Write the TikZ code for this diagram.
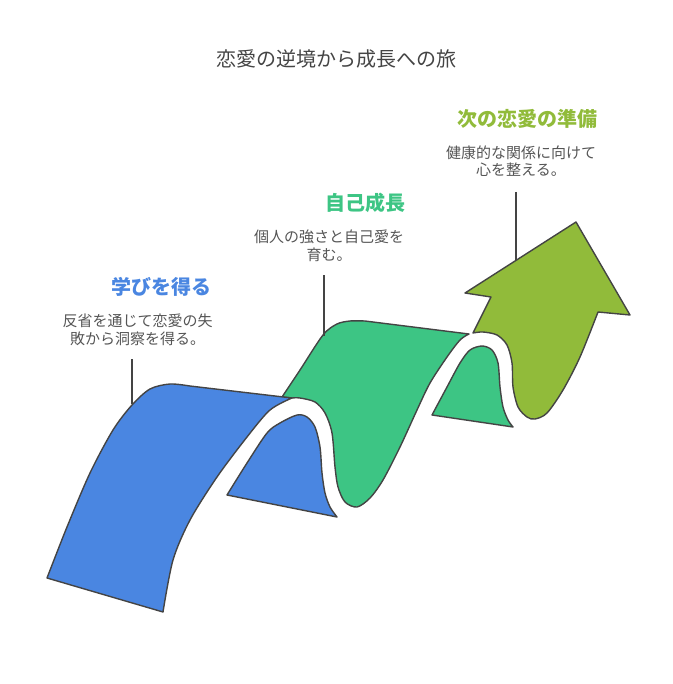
\documentclass[tikz,border=0pt]{standalone}
\usepackage{fontspec}
\setmainfont{Noto Sans CJK JP}
\usetikzlibrary{positioning}

\definecolor{edgegray}{HTML}{444444}
\definecolor{titlegray}{HTML}{444444}
\definecolor{descgray}{HTML}{555555}
\definecolor{learnblue}{HTML}{4A86E1}
\definecolor{growgreen}{HTML}{3DC584}
\definecolor{nextolive}{HTML}{91BB3A}

\tikzstyle{every path}+=[line join=round]
\tikzstyle{face}=[draw=edgegray, line width=1.4pt]
\tikzstyle{leader}=[draw=edgegray, line width=1.4pt]
\tikzstyle{head}=[font=\bfseries\fontsize{20}{24}\selectfont, inner sep=0pt, text height=17.6pt, text depth=2.4pt]
\tikzstyle{desc}=[font=\fontsize{15}{17.5}\selectfont, align=center, inner sep=0pt, text height=30.7pt, text depth=1.8pt, text=descgray]

\begin{document}
\begin{tikzpicture}[x=1pt,y=-1pt]
\useasboundingbox (0,0) rectangle (672,684);

\node[font=\fontsize{20}{24}\selectfont, text=titlegray, inner sep=0pt] (title) at (336,59) {恋愛の逆境から成長への旅};

% arrow and the green piece
\draw[face, fill=nextolive] (473,333) -- (491,297) -- (465,293) -- (576,222) -- (630,315) -- (598,312)
  -- plot[smooth] coordinates {(598,312) (580,357) (563,390) (547,413) (535,419) (527,417) (518,407) (513,387) (512,363) (507,345) (497,335) (483,332) (473,333)} -- cycle;
\draw[face, fill=growgreen] plot[smooth] coordinates {(432,415) (447,387) (460,363) (470,350) (482,346) (492,350) (498,363) (500,387) (503,407) (508,420) (513,427)} -- cycle;
\draw[face, fill=growgreen] plot[smooth] coordinates {(282,397) (300,370) (323,335) (337,324) (350,321) (365,321)} -- (469,334)
  -- plot[smooth] coordinates {(469,334) (460,340) (447,357) (430,383) (417,410) (400,447) (383,480) (370,498) (357,507) (345,502) (338,487) (335,467) (332,433) (325,413) (315,402) (300,398) (292,398)} -- cycle;

% blue piece
\draw[face, fill=learnblue] plot[smooth] coordinates {(227,495) (247,463) (267,433) (280,423) (297,415) (307,417) (315,427) (320,447) (322,473) (325,493) (330,507) (337,517)} -- cycle;
\draw[face, fill=learnblue] plot[smooth] coordinates {(47,578) (67,527) (90,473) (113,430) (132,405) (150,389) (170,384) (190,386)} -- (292,398)
  -- plot[smooth] coordinates {(292,398) (270,410) (247,437) (217,477) (190,520) (173,560) (163,612)} -- cycle;

\node[desc] (descA) at (137.5,330) {反省を通じて恋愛の失\\敗から洞察を得る。};
\node[head, text=learnblue, above left=16pt and 1pt of descA.north east] (headA) {学びを得る};
\node[desc] (descB) at (329,246) {個人の強さと自己愛を\\育む。};
\node[head, text=growgreen, above left=16pt and -1pt of descB.north east] (headB) {自己成長};
\node[desc] (descC) at (521,161.5) {健康的な関係に向けて\\心を整える。};
\node[head, text=nextolive, above left=16pt and -1pt of descC.north east] (headC) {次の恋愛の準備};

\coordinate (leadAtop) at (132,359);
\coordinate (leadAend) at (132,404);
\coordinate (leadBtop) at (324,275);
\coordinate (leadBend) at (324,336);
\coordinate (leadCtop) at (516,192);
\coordinate (leadCend) at (516,260);
\draw[leader] (leadAtop) -- (leadAend);
\draw[leader] (leadBtop) -- (leadBend);
\draw[leader] (leadCtop) -- (leadCend);
\end{tikzpicture}
\end{document}
